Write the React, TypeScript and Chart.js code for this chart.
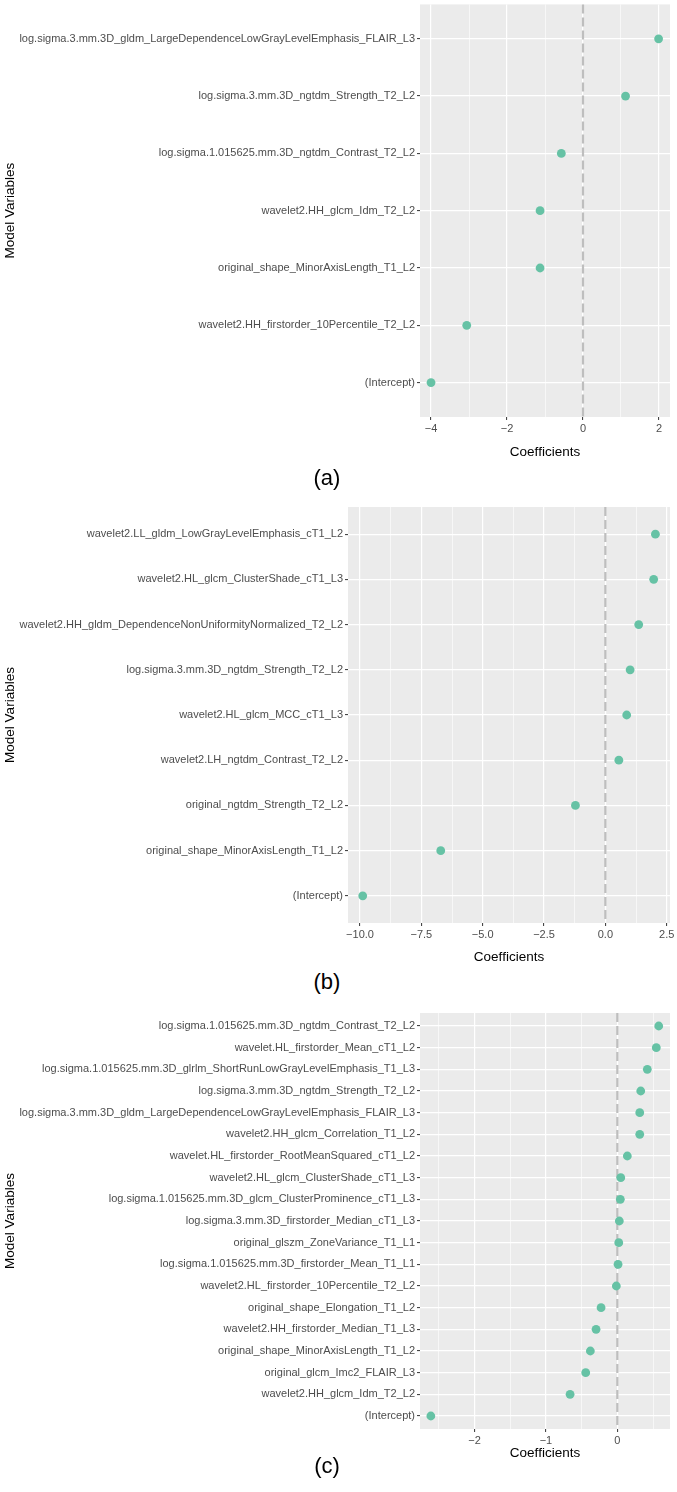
import React, { useEffect, useRef } from 'react';
import { Chart, registerables } from 'chart.js';

Chart.register(...registerables);

const FONT = '"Liberation Sans", Arial, Helvetica, sans-serif';

// ---------- Panel (a) ----------
const catsA = [
  'log.sigma.3.mm.3D_gldm_LargeDependenceLowGrayLevelEmphasis_FLAIR_L3',
  'log.sigma.3.mm.3D_ngtdm_Strength_T2_L2',
  'log.sigma.1.015625.mm.3D_ngtdm_Contrast_T2_L2',
  'wavelet2.HH_glcm_Idm_T2_L2',
  'original_shape_MinorAxisLength_T1_L2',
  'wavelet2.HH_firstorder_10Percentile_T2_L2',
  '(Intercept)',
];
const coefA = [1.99, 1.12, -0.57, -1.13, -1.13, -3.06, -4.0];
const majorA = [-4, -2, 0, 2];
const majorLabelsA = ['\u22124', '\u22122', '0', '2'];
const minorA = [-3, -1, 1];

// ---------- Panel (b) ----------
const catsB = [
  'wavelet2.LL_gldm_LowGrayLevelEmphasis_cT1_L2',
  'wavelet2.HL_glcm_ClusterShade_cT1_L3',
  'wavelet2.HH_gldm_DependenceNonUniformityNormalized_T2_L2',
  'log.sigma.3.mm.3D_ngtdm_Strength_T2_L2',
  'wavelet2.HL_glcm_MCC_cT1_L3',
  'wavelet2.LH_ngtdm_Contrast_T2_L2',
  'original_ngtdm_Strength_T2_L2',
  'original_shape_MinorAxisLength_T1_L2',
  '(Intercept)',
];
const coefB = [2.04, 1.97, 1.36, 1.01, 0.87, 0.55, -1.22, -6.71, -9.89];
const majorB = [-10, -7.5, -5, -2.5, 0, 2.5];
const majorLabelsB = ['\u221210.0', '\u22127.5', '\u22125.0', '\u22122.5', '0.0', '2.5'];
const minorB = [-8.75, -6.25, -3.75, -1.25, 1.25];

// ---------- Panel (c) ----------
const catsC = [
  'log.sigma.1.015625.mm.3D_ngtdm_Contrast_T2_L2',
  'wavelet.HL_firstorder_Mean_cT1_L2',
  'log.sigma.1.015625.mm.3D_glrlm_ShortRunLowGrayLevelEmphasis_T1_L3',
  'log.sigma.3.mm.3D_ngtdm_Strength_T2_L2',
  'log.sigma.3.mm.3D_gldm_LargeDependenceLowGrayLevelEmphasis_FLAIR_L3',
  'wavelet2.HH_glcm_Correlation_T1_L2',
  'wavelet.HL_firstorder_RootMeanSquared_cT1_L2',
  'wavelet2.HL_glcm_ClusterShade_cT1_L3',
  'log.sigma.1.015625.mm.3D_glcm_ClusterProminence_cT1_L3',
  'log.sigma.3.mm.3D_firstorder_Median_cT1_L3',
  'original_glszm_ZoneVariance_T1_L1',
  'log.sigma.1.015625.mm.3D_firstorder_Mean_T1_L1',
  'wavelet2.HL_firstorder_10Percentile_T2_L2',
  'original_shape_Elongation_T1_L2',
  'wavelet2.HH_firstorder_Median_T1_L3',
  'original_shape_MinorAxisLength_T1_L2',
  'original_glcm_Imc2_FLAIR_L3',
  'wavelet2.HH_glcm_Idm_T2_L2',
  '(Intercept)',
];
const coefC = [
  0.58, 0.546, 0.42, 0.328, 0.314, 0.314, 0.14, 0.048, 0.042, 0.028,
  0.02, 0.01, -0.014, -0.228, -0.298, -0.378, -0.443, -0.662, -2.613,
];
const majorC = [-2, -1, 0];
const majorLabelsC = ['\u22122', '\u22121', '0'];
const minorC = [-2.5, -1.5, -0.5, 0.5];

interface PanelSpec {
  cats: string[];
  coefs: number[];
  major: number[];
  majorLabels: string[];
  minor: number[];
  xMin: number;
  xMax: number;
  top: number;
  height: number;
  chartLeft: number;
  chartTop: number;
  chartBottom: number;
  titlePad: number;
}

const W = 677;
const CHART_RIGHT = 670;

function Panel({ spec }: { spec: PanelSpec }) {
  const ref = useRef<HTMLCanvasElement>(null);
  useEffect(() => {
    if (!ref.current) return;
    const n = spec.cats.length;
    const isMajor = (v: number) => spec.major.some((m) => Math.abs(m - v) < 1e-9);
    const allTicks = [...spec.major, ...spec.minor].sort((a, b) => a - b);

    const bgPlugin = {
      id: 'panelBg',
      beforeDraw(chart: any) {
        const { ctx, chartArea: a } = chart;
        ctx.save();
        ctx.fillStyle = '#EBEBEB';
        ctx.fillRect(a.left, a.top, a.right - a.left, a.bottom - a.top);
        ctx.restore();
      },
    };
    const zeroPlugin = {
      id: 'zeroLine',
      beforeDatasetsDraw(chart: any) {
        const { ctx, chartArea: a } = chart;
        const x = chart.scales.x.getPixelForValue(0);
        ctx.save();
        ctx.beginPath();
        ctx.setLineDash([9, 4]);
        ctx.strokeStyle = '#BEBEBE';
        ctx.lineWidth = 2.2;
        ctx.moveTo(x, a.top);
        ctx.lineTo(x, a.bottom);
        ctx.stroke();
        ctx.restore();
      },
    };

    const chart = new Chart(ref.current, {
      type: 'scatter',
      data: {
        datasets: [
          {
            data: spec.coefs.map((v, i) => ({ x: v, y: i + 1 })),
            backgroundColor: '#66C2A5',
            borderColor: '#66C2A5',
            borderWidth: 0,
            pointRadius: 4.4,
            pointHoverRadius: 4.4,
          },
        ],
      },
      options: {
        animation: false,
        responsive: false,
        maintainAspectRatio: false,
        events: [],
        layout: {
          padding: { top: spec.chartTop, right: W - CHART_RIGHT, left: 0, bottom: 0 },
        },
        plugins: {
          legend: { display: false },
          tooltip: { enabled: false },
        },
        scales: {
          x: {
            type: 'linear',
            min: spec.xMin,
            max: spec.xMax,
            bounds: 'data',
            afterBuildTicks: (s: any) => {
              s.ticks = allTicks.map((v) => ({ value: v }));
            },
            afterFit: (s: any) => {
              s.height = spec.height - spec.chartBottom;
              s.paddingLeft = 0;
              s.paddingRight = 0;
            },
            ticks: {
              autoSkip: false,
              maxRotation: 0,
              minRotation: 0,
              padding: 2,
              color: '#4D4D4D',
              font: { family: FONT, size: 11 },
              callback: (v: any) => {
                const i = spec.major.findIndex((m) => Math.abs(m - Number(v)) < 1e-9);
                return i >= 0 ? spec.majorLabels[i] : '';
              },
            },
            grid: {
              color: '#FFFFFF',
              lineWidth: (c: any) => (c.tick && isMajor(c.tick.value) ? 1.2 : 0.6),
              tickColor: (c: any) => (c.tick && isMajor(c.tick.value) ? '#333333' : 'rgba(0,0,0,0)'),
              tickLength: 3,
              tickWidth: 1,
            },
            border: { display: false },
            title: {
              display: true,
              text: 'Coefficients',
              color: '#000000',
              font: { family: FONT, size: 13.5, lineHeight: 1.2 },
              padding: { top: 0, bottom: spec.titlePad },
            },
          },
          y: {
            type: 'linear',
            reverse: true,
            min: 0.4,
            max: n + 0.6,
            bounds: 'data',
            afterBuildTicks: (s: any) => {
              s.ticks = spec.cats.map((_, i) => ({ value: i + 1 }));
            },
            afterFit: (s: any) => {
              s.width = spec.chartLeft;
              s.paddingTop = 0;
              s.paddingBottom = 0;
            },
            ticks: {
              autoSkip: false,
              padding: 2,
              color: '#4D4D4D',
              font: { family: FONT, size: 11 },
              callback: (v: any) => spec.cats[Math.round(Number(v)) - 1] ?? '',
            },
            grid: {
              color: '#FFFFFF',
              lineWidth: 1.2,
              tickColor: '#333333',
              tickLength: 3,
              tickWidth: 1,
            },
            border: { display: false },
            title: {
              display: true,
              text: 'Model Variables',
              color: '#000000',
              font: { family: FONT, size: 13.5, lineHeight: 1.2 },
              padding: { top: 2, bottom: 0 },
            },
          },
        },
      } as any,
      plugins: [bgPlugin, zeroPlugin],
    });
    return () => chart.destroy();
  }, [spec]);

  return (
    <canvas
      ref={ref}
      width={W}
      height={spec.height}
      style={{ position: 'absolute', left: 0, top: spec.top, width: W, height: spec.height, display: 'block' }}
    />
  );
}

const specA: PanelSpec = {
  cats: catsA, coefs: coefA, major: majorA, majorLabels: majorLabelsA, minor: minorA,
  xMin: -4.29, xMax: 2.29,
  top: 0, height: 468, chartLeft: 420, chartTop: 0, chartBottom: 417, titlePad: 7.9,
};
const specB: PanelSpec = {
  cats: catsB, coefs: coefB, major: majorB, majorLabels: majorLabelsB, minor: minorB,
  xMin: -10.49, xMax: 2.635,
  top: 490, height: 478, chartLeft: 348, chartTop: 17, chartBottom: 433, titlePad: 2.9,
};
const specC: PanelSpec = {
  cats: catsC, coefs: coefC, major: majorC, majorLabels: majorLabelsC, minor: minorC,
  xMin: -2.765, xMax: 0.738,
  top: 995, height: 470, chartLeft: 420, chartTop: 18, chartBottom: 434, titlePad: 3.9,
};

const panelLabels = ['(a)', '(b)', '(c)'];
const panelLabelY = [478, 982, 1466];

export default function App() {
  return (
    <div style={{ position: 'absolute', left: 0, top: 0, width: W, height: 1492, background: '#FFFFFF', overflow: 'hidden' }}>
      <Panel spec={specA} />
      <Panel spec={specB} />
      <Panel spec={specC} />
      {panelLabels.map((t, i) => (
        <div
          key={t}
          style={{
            position: 'absolute',
            left: 277,
            width: 100,
            top: panelLabelY[i] - 13,
            height: 26,
            lineHeight: '26px',
            textAlign: 'center',
            fontFamily: FONT,
            fontSize: 22,
            color: '#000000',
          }}
        >
          {t}
        </div>
      ))}
    </div>
  );
}
